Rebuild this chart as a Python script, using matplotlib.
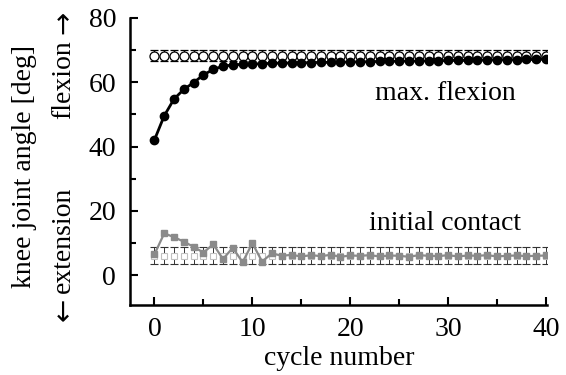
import matplotlib
matplotlib.use("Agg")
import matplotlib.pyplot as plt
import numpy as np

# cycle numbers 0..40
cycles = list(range(41))

# max. flexion of the walker (black dots)
max_flexion = [42.1, 49.6, 54.8, 57.8, 59.9, 62.3, 64.0, 65.0, 65.4, 65.6,
               65.7, 65.8, 65.9, 66.0, 66.0, 66.1, 66.1, 66.2, 66.2, 66.3,
               66.3, 66.4, 66.4, 66.5, 66.5, 66.6, 66.6, 66.6, 66.7, 66.7,
               66.8, 66.8, 66.8, 66.9, 66.9, 67.0, 67.0, 67.0, 67.1, 67.1,
               67.2]
# normal max. flexion reference (open circles, mean +- sd)
flex_ref_mean = [68.3] * 41
flex_ref_sd = [1.8] * 41

# initial contact of the walker (grey squares)
initial_contact = [6.5, 13.0, 11.8, 10.4, 8.8, 7.0, 9.6, 5.0, 8.5, 4.0,
                   9.9, 4.2, 6.8, 6.0, 6.3, 5.8, 6.2, 5.9, 6.3, 5.7,
                   6.1, 6.0, 6.2, 5.8, 6.1, 6.0, 5.7, 6.2, 6.0, 5.9,
                   6.2, 5.8, 6.1, 6.0, 6.2, 5.8, 6.0, 6.1, 5.9, 6.0,
                   6.1]
# normal initial contact reference (open squares, mean +- sd)
ic_ref_mean = [6.0] * 41
ic_ref_sd = [2.6] * 41

plt.rcParams['font.family'] = ['Liberation Serif', 'DejaVu Serif']
FS = 20

fig = plt.figure(figsize=(5.66, 3.75), dpi=100)
ax = fig.add_axes([0.2297, 0.1867, 0.7367, 0.7653])

# reference bands
ax.errorbar(cycles, flex_ref_mean, yerr=flex_ref_sd, fmt='o', mfc='white',
            mec='black', ms=6.5, mew=0.9, ecolor='black', elinewidth=0.8,
            capsize=3.0, capthick=1.2, zorder=2)
ax.errorbar(cycles, ic_ref_mean, yerr=ic_ref_sd, fmt='s', mfc='white',
            mec='#c0c0c0', ms=5, mew=0.8, ecolor='#333333', elinewidth=0.7,
            capsize=3.0, capthick=1.1, zorder=2)

# measured curves
ax.plot(cycles, max_flexion, '-o', color='black', ms=6, lw=2.0, zorder=3)
ax.plot(cycles, initial_contact, '-s', color='#8a8a8a', ms=4.5, lw=1.6,
        zorder=3)

ax.text(29.7, 56.6, 'max. flexion', fontsize=FS, ha='center', va='center')
ax.text(29.7, 16.1, 'initial contact', fontsize=FS, ha='center', va='center')

ax.set_xlim(-2.5, 40.1)
ax.set_ylim(-9.3, 80)
ax.set_xticks([0, 10, 20, 30, 40])
ax.set_xticks([5, 15, 25, 35], minor=True)
ax.set_yticks([0, 20, 40, 60, 80])
ax.set_yticks([10, 30, 50, 70], minor=True)
ax.tick_params(which='both', direction='in', labelsize=FS, width=1.5)
ax.tick_params(which='major', length=6)
ax.tick_params(axis='x', which='major', pad=9)
ax.tick_params(axis='y', which='major', pad=10)
ax.tick_params(which='minor', length=4)
ax.spines['top'].set_visible(False)
ax.spines['right'].set_visible(False)
ax.spines['left'].set_linewidth(1.8)
ax.spines['bottom'].set_linewidth(1.8)

# x label placed on its baseline near the figure bottom
fig.text(0.6, 0.027, 'cycle number', fontsize=FS, ha='center',
         va='baseline')
fig.text(0.044, 0.557, 'knee joint angle [deg]', rotation=90, fontsize=FS,
         ha='center', va='center')
# second label line: arrows drawn in DejaVu Sans (wider glyphs)
fig.text(0.112, 0.219, 'extension', rotation=90, fontsize=FS,
         ha='center', va='bottom')
fig.text(0.112, 0.205, '\u2190', rotation=90, fontsize=FS,
         family='DejaVu Sans', ha='center', va='top')
fig.text(0.112, 0.893, 'flexion', rotation=90, fontsize=FS,
         ha='center', va='top')
fig.text(0.112, 0.91, '\u2192', rotation=90, fontsize=FS,
         family='DejaVu Sans', ha='center', va='bottom')

fig.savefig('out.png', dpi=100)
